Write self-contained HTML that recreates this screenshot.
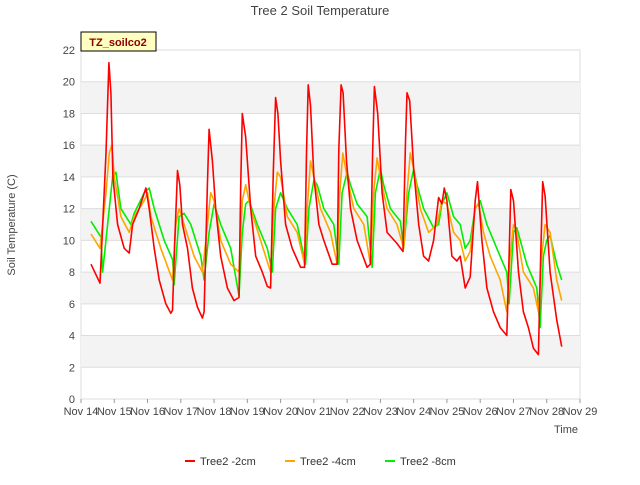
<!DOCTYPE html>
<html><head><meta charset="utf-8"><style>
body{margin:0;background:#fff;font-family:"Liberation Sans",sans-serif}
svg text{font-family:"Liberation Sans",sans-serif}
</style></head><body>
<svg id="chart" width="640" height="480" xmlns="http://www.w3.org/2000/svg">
<rect width="640" height="480" fill="#fff"/>
<text x="320" y="15" text-anchor="middle" font-size="13" fill="#444">Tree 2 Soil Temperature</text>
<g id="grid"></g>
<g id="axes"></g>
<g id="series"></g>
<text x="15" y="225" transform="rotate(-90 15 225)" text-anchor="middle" font-size="11" fill="#444">Soil Temperature (C)</text>
<text x="578" y="433" text-anchor="end" font-size="11" fill="#444">Time</text>
<g>
<rect x="81" y="32" width="75" height="19" fill="#ffffc0" stroke="#000" stroke-width="1"/>
<text x="118" y="46" text-anchor="middle" font-size="11" font-weight="bold" fill="#8b0000">TZ_soilco2</text>
</g>
<g id="legend"></g>
</svg>
<script>
const yTicks=[0,2,4,6,8,10,12,14,16,18,20,22];
const xTickLabels=["Nov 14","Nov 15","Nov 16","Nov 17","Nov 18","Nov 19","Nov 20","Nov 21","Nov 22","Nov 23","Nov 24","Nov 25","Nov 26","Nov 27","Nov 28","Nov 29"];
const seriesNames=["Tree2 -2cm","Tree2 -4cm","Tree2 -8cm"];
const seriesColors=["#ff0000","#ffa500","#00ee00"];
const redT=[0.3,0.57,0.75,0.84,0.9,0.96,1.1,1.3,1.45,1.55,1.75,1.95,2.05,2.2,2.35,2.55,2.7,2.75,2.82,2.9,2.97,3.05,3.2,3.35,3.5,3.65,3.7,3.8,3.85,3.95,4.05,4.2,4.4,4.6,4.75,4.8,4.85,4.95,5.1,5.25,5.45,5.6,5.7,5.78,5.85,5.92,6.0,6.15,6.35,6.6,6.72,6.78,6.83,6.9,7.0,7.15,7.3,7.55,7.7,7.75,7.82,7.88,7.98,8.1,8.3,8.6,8.7,8.77,8.82,8.92,9.05,9.2,9.5,9.68,9.75,9.8,9.88,10.0,10.15,10.3,10.45,10.6,10.75,10.85,10.92,11.0,11.15,11.3,11.4,11.55,11.7,11.85,11.92,12.05,12.2,12.4,12.6,12.8,12.87,12.92,13.0,13.15,13.3,13.45,13.6,13.75,13.82,13.88,13.95,14.1,14.3,14.45];
const redV=[8.5,7.3,15.5,21.2,19.3,14,11,9.5,9.2,11,12,13.3,12,9.5,7.5,6,5.4,5.6,10,14.4,13.5,11,9.5,7,5.8,5.1,5.5,13.5,17,15,12,9,7,6.2,6.4,13.4,18,16.5,12,9,8,7.1,7,14.3,19,18,15,11,9.5,8.3,8.3,15.5,19.8,18.5,14,11,10,8.5,8.5,15.7,19.8,19.3,15,12,10,8.3,8.5,15.7,19.7,18,13,10.5,9.8,9.3,16,19.3,18.8,14.5,11,9,8.7,10,12.7,12.3,13.3,12.5,9,8.7,9,7,7.7,12.5,13.7,10,7,5.5,4.5,4,9,13.2,12.5,8,5.5,4.5,3.2,2.8,9,13.7,12.8,8,5,3.3];
const orangeT=[0.3,0.57,0.75,0.85,0.93,1.0,1.2,1.45,1.6,1.9,2.0,2.1,2.4,2.75,2.85,2.95,3.1,3.4,3.65,3.75,3.9,4.0,4.2,4.5,4.75,4.85,4.95,5.1,5.4,5.7,5.8,5.9,6.0,6.2,6.5,6.72,6.8,6.9,7.0,7.2,7.5,7.7,7.78,7.87,8.0,8.2,8.5,8.7,8.8,8.9,9.0,9.2,9.5,9.7,9.8,9.9,10.0,10.2,10.45,10.7,10.85,11.0,11.2,11.4,11.55,11.7,11.85,11.95,12.1,12.3,12.6,12.8,12.9,13.0,13.1,13.3,13.6,13.75,13.85,13.95,14.1,14.3,14.45];
const orangeV=[10.4,9.5,13,15.5,16,14,11.5,10.5,11.5,12.5,13,11.5,9.5,7.5,11,12,11,9,8,10,13,12.5,10,8.5,8,12.5,13.5,12,10,8,12,14.3,14,11.5,10.5,8.5,12,15,14,12,10.5,8.5,13,15.5,14,12,11,8.5,13,15.2,14,12,11,9.5,13,15.5,14.5,12,10.5,11,12.5,12.3,10.5,10,8.7,9.3,12,12.3,10.5,9,7.5,5.5,9,11,10.5,8,7,5.5,9,11,10.5,7.5,6.2];
const greenT=[0.3,0.6,0.65,0.8,0.95,1.05,1.2,1.5,1.6,1.9,2.05,2.2,2.5,2.75,2.8,2.95,3.1,3.3,3.6,3.7,3.85,4.0,4.2,4.5,4.75,4.85,4.95,5.05,5.3,5.6,5.75,5.85,6.0,6.2,6.5,6.75,6.85,7.0,7.1,7.3,7.6,7.75,7.85,8.0,8.1,8.3,8.6,8.75,8.85,9.0,9.1,9.3,9.6,9.7,9.85,10.0,10.1,10.3,10.6,10.75,10.85,11.0,11.2,11.4,11.55,11.7,11.85,12.0,12.2,12.5,12.8,12.87,13.0,13.1,13.4,13.7,13.8,13.9,14.0,14.1,14.3,14.45];
const greenV=[11.2,10.2,8,11,14,14.3,12,11,11.7,13,13.3,12,10,8.8,7.2,11.5,11.7,11,9,7.5,10.5,12.3,11,9.5,6.5,10.5,12.3,12.5,11,9.5,8,12,13,12,11,8.5,12,13.8,13.5,12,11,8.5,13,14.3,13.5,12.3,11.5,8.3,13,14.5,13.5,12,11.2,9.5,13,14.5,13.5,12,10.8,11,12.3,13,11.5,11,9.5,10,12,12.5,11,9.5,8,6,10.5,10.8,8.5,7,4.5,9,10,10.3,8.5,7.5];
const X0=81,X1=580,Y0=399,Y1=50;
const xs=d=>X0+(X1-X0)*d/15;
const ys=v=>Y0-(Y0-Y1)*v/22;
const NS="http://www.w3.org/2000/svg";
function mk(tag,attrs,parent){const e=document.createElementNS(NS,tag);for(const k in attrs)e.setAttribute(k,attrs[k]);parent.appendChild(e);return e;}
const grid=document.getElementById('grid'),axes=document.getElementById('axes'),ser=document.getElementById('series'),leg=document.getElementById('legend');
mk('rect',{x:X0,y:Y1,width:X1-X0,height:Y0-Y1,fill:'#fff',stroke:'#ddd'},grid);
for(let i=0;i<yTicks.length-1;i++){
  if(i%2===1){const b=mk('rect',{x:X0,y:ys(yTicks[i+1]),width:X1-X0,height:ys(yTicks[i])-ys(yTicks[i+1]),fill:'#f3f3f3'},grid);
  }
}
yTicks.forEach(v=>{
  const l=mk('line',{x1:X0,x2:X1,y1:ys(v),y2:ys(v),stroke:'#ddd'},grid);
  
  const t=mk('text',{x:X0-6,y:ys(v)+4,'text-anchor':'end','font-size':11,fill:'#444'},axes);
  t.textContent=v;
});
xTickLabels.forEach((s,i)=>{
  const l=mk('line',{x1:xs(i),x2:xs(i),y1:Y0,y2:Y0+4,stroke:'#999'},axes);
  
  const t=mk('text',{x:xs(i),y:Y0+16,'text-anchor':'middle','font-size':11,fill:'#444'},axes);
  t.textContent=s;
});
const data=[[redT,redV],[orangeT,orangeV],[greenT,greenV]];
[2,1,0].forEach(k=>{
  const [T,V]=data[k];
  const p=mk('polyline',{points:T.map((t,i)=>xs(t).toFixed(1)+','+ys(V[i]).toFixed(1)).join(' '),fill:'none',stroke:seriesColors[k],'stroke-width':1.6,'stroke-linejoin':'round'},ser);
  
});
const lx=[185,285,385];
seriesNames.forEach((n,k)=>{
  const g=mk('g',{},leg);
  
  mk('line',{x1:lx[k],x2:lx[k]+10,y1:461,y2:461,stroke:seriesColors[k],'stroke-width':2},g);
  const t=mk('text',{x:lx[k]+15,y:465,'font-size':11,fill:'#333'},g);t.textContent=n;
});
</script>
</body></html>
